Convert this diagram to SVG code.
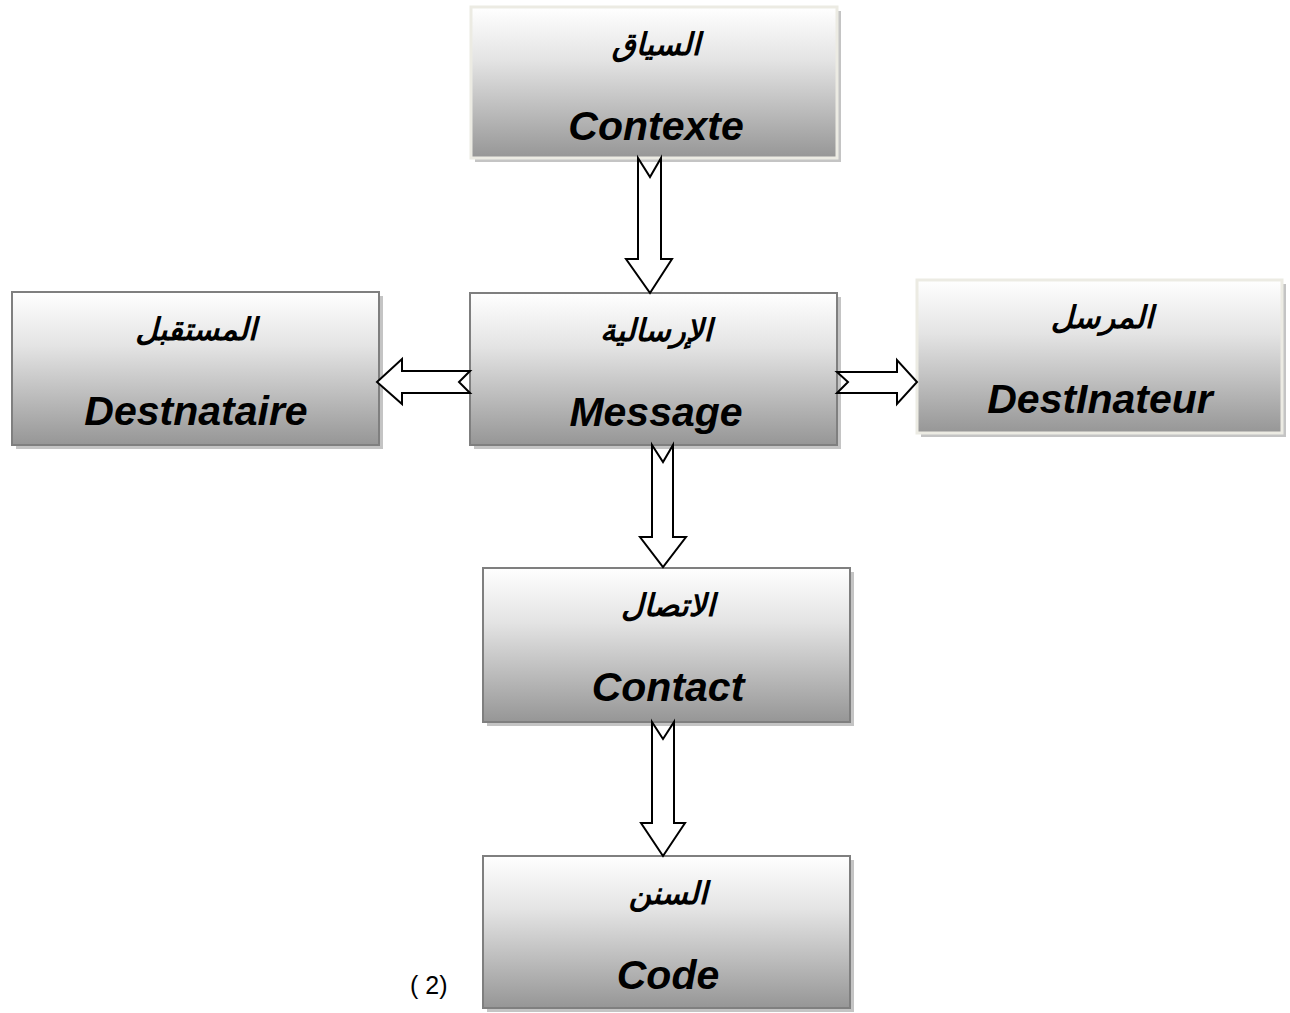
<svg xmlns="http://www.w3.org/2000/svg" width="1290" height="1013" viewBox="0 0 1290 1013">
  <defs>
    <linearGradient id="boxFill" x1="0" y1="0" x2="0" y2="1">
      <stop offset="0" stop-color="#ffffff"/>
      <stop offset="0.35" stop-color="#e4e4e4"/>
      <stop offset="1" stop-color="#969696"/>
    </linearGradient>
  </defs>
  <style>
    .shadow { fill: #c4c4c4; }
    .box { fill: url(#boxFill); stroke: #7f7f7f; stroke-width: 2; }
    .box.light { stroke: #ecebe3; stroke-width: 3; }
    .ar { font-family: "DejaVu Sans", sans-serif; font-weight: bold; font-style: italic; font-size: 31px; fill: #000; text-anchor: middle; }
    .en { font-family: "Liberation Sans", Arial, sans-serif; font-weight: bold; font-style: italic; font-size: 41px; fill: #000; text-anchor: middle; }
    .note { font-family: "Liberation Sans", Arial, sans-serif; font-size: 25px; fill: #000; }
    .arrow { fill: #ffffff; stroke: #000000; stroke-width: 2; stroke-linejoin: miter; }
  </style>
  <rect width="1290" height="1013" fill="#ffffff"/>

  <!-- Context -->
  <g id="node-contexte">
    <rect class="shadow" x="475" y="11" width="366" height="151"/>
    <rect class="box light" x="471" y="7" width="366" height="151"/>
    <text class="ar" x="656" y="55">السياق</text>
    <text class="en" x="656" y="140">Contexte</text>
  </g>

  <!-- Message -->
  <g id="node-message">
    <rect class="shadow" x="474" y="297" width="367" height="152"/>
    <rect class="box" x="470" y="293" width="367" height="152"/>
    <text class="ar" x="656" y="341">الإرسالية</text>
    <text class="en" x="656" y="426">Message</text>
  </g>

  <!-- Receiver -->
  <g id="node-destnataire">
    <rect class="shadow" x="16" y="296" width="367" height="153"/>
    <rect class="box" x="12" y="292" width="367" height="153"/>
    <text class="ar" x="196" y="340">المستقبل</text>
    <text class="en" x="196" y="425">Destnataire</text>
  </g>

  <!-- Sender -->
  <g id="node-destinateur">
    <rect class="shadow" x="921" y="284" width="365" height="153"/>
    <rect class="box light" x="917" y="280" width="365" height="153"/>
    <text class="ar" x="1102" y="328">المرسل</text>
    <text class="en" x="1100" y="413">DestInateur</text>
  </g>

  <!-- Contact -->
  <g id="node-contact">
    <rect class="shadow" x="487" y="572" width="367" height="154"/>
    <rect class="box" x="483" y="568" width="367" height="154"/>
    <text class="ar" x="668" y="616">الاتصال</text>
    <text class="en" x="668" y="701">Contact</text>
  </g>

  <!-- Code -->
  <g id="node-code">
    <rect class="shadow" x="487" y="860" width="367" height="152"/>
    <rect class="box" x="483" y="856" width="367" height="152"/>
    <text class="ar" x="668" y="904">السنن</text>
    <text class="en" x="668" y="989">Code</text>
  </g>

  <text class="note" x="410" y="994">( 2)</text>

  <!-- Notched block arrows -->
  <g id="connectors">
    <polygon class="arrow" points="638,158 650,177 661,158 661,259 672,259 650,293 626,259 638,259"/>
    <polygon class="arrow" points="470,371 459,382 470,393 402,393 402,404 377,382 402,359 402,371"/>
    <polygon class="arrow" points="837,372 848,382 837,393 897,393 897,404 917,382 897,360 897,372"/>
    <polygon class="arrow" points="652,445 663,462 673,445 673,537 686,537 663,567 640,537 652,537"/>
    <polygon class="arrow" points="652,722 663,739 674,722 674,823 685,823 663,856 641,823 652,823"/>
  </g>
</svg>
